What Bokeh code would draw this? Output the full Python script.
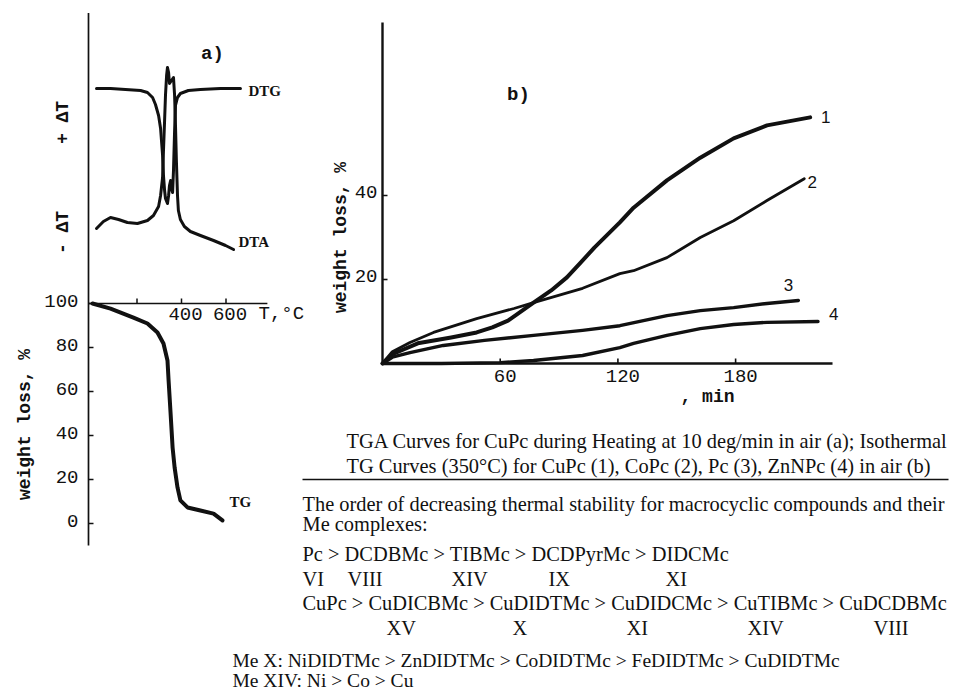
import math
from bokeh.plotting import figure
from bokeh.models import Range1d
from bokeh.core.properties import value
from bokeh.embed import file_html
from bokeh.resources import INLINE

# ---------------- data ----------------
# (a) TGA of CuPc heated at 10 deg/min in air
tg_temp = [0, 81, 184, 247, 292, 319, 337, 342, 351, 360, 369, 382, 395, 427, 485, 544, 584]
tg_mass = [100, 97.7, 93.6, 90.9, 86.8, 81.8, 74.1, 65.0, 50.0, 34.5, 25.5, 16.4, 10.5, 7.3, 5.9, 4.5, 1.4]

dta_temp = [18, 49, 81, 117, 157, 202, 247, 274, 297, 306, 315, 319, 324, 328, 333, 337,
            342, 346, 355, 364, 369, 373, 377, 382, 386, 395, 413, 440, 485, 544, 598, 634]
dta_sig = [11, 14.5, 16.5, 15.5, 14, 13.5, 15, 17.5, 22, 27.5, 36.5, 50, 65, 77.5, 87.5, 91.5,
           89, 83.5, 85, 86.5, 77.5, 62.5, 45, 27.5, 20, 15.5, 12, 9.5, 7.5, 5, 2.5, 0.5]

dtg_temp = [18, 81, 148, 216, 247, 270, 283, 297, 306, 310, 315, 319, 324, 328, 337,
            342, 346, 351, 355, 360, 364, 369, 373, 382, 395, 431, 485, 575, 665]
dtg_sig = [81, 81, 80.5, 80, 79, 76.5, 73, 67.5, 61, 55, 47.5, 37.5, 30, 26, 23.5,
           27.5, 32.5, 35, 31, 29, 40, 60, 72.5, 76.5, 78.5, 80, 80.5, 81, 81]

tg_ticks = [0, 20, 40, 60, 80, 100]
t_ticks = [200, 400, 600]
t_tick_labels = ["", "400", "600"]

# (b) isothermal TG at 350 C in air
c1_time = [0, 5, 18, 35, 48, 56, 64, 77, 86, 94, 101, 108, 121, 128, 145, 162, 179, 196, 218]
c1_loss = [0, 2.2, 4.8, 6.2, 7.4, 8.6, 10.2, 14.5, 17.4, 20.5, 24.0, 27.6, 33.6, 37.1, 43.6, 49.0, 53.6, 56.7, 58.6]
c2_time = [0, 5, 14, 26, 48, 67, 77, 102, 121, 128, 145, 162, 179, 196, 215]
c2_loss = [0, 2.8, 5.0, 7.4, 10.7, 13.1, 14.5, 17.9, 21.4, 22.1, 25.2, 30.0, 34.0, 38.8, 44.0]
c3_time = [0, 5, 14, 31, 52, 77, 102, 121, 145, 162, 179, 196, 212]
c3_loss = [0, 1.5, 2.6, 4.3, 5.5, 6.7, 7.9, 9.0, 11.4, 12.6, 13.3, 14.3, 15.0]
c4_time = [0, 30, 60, 77, 102, 121, 128, 145, 162, 179, 196, 222]
c4_loss = [0, 0, 0.2, 0.7, 1.9, 3.8, 4.8, 6.7, 8.3, 9.3, 9.8, 10.0]
curve_names = ["1", "2", "3", "4"]
curve_label_time = [226, 219, 207, 230]
curve_label_loss = [58.6, 43.1, 18.8, 11.7]

time_ticks = [60, 120, 180]
loss_ticks = [20, 40]

caption = [
    "TGA Curves for CuPc during Heating at 10 deg/min in air (a); Isothermal",
    "TG Curves (350\u00b0C) for CuPc (1), CoPc (2), Pc (3), ZnNPc (4) in air (b)",
]
note_lines = [
    "The order of decreasing thermal stability for macrocyclic compounds and their",
    "Me complexes:",
    "Pc > DCDBMc > TIBMc > DCDPyrMc > DIDCMc",
    "CuPc > CuDICBMc > CuDIDTMc > CuDIDCMc > CuTIBMc > CuDCDBMc",
]
numerals_row1 = ["VI", "VIII", "XIV", "IX", "XI"]
numerals_row2 = ["XV", "X", "XI", "XIV", "VIII"]
me_lines = [
    "Me X: NiDIDTMc > ZnDIDTMc > CoDIDTMc > FeDIDTMc > CuDIDTMc",
    "Me XIV: Ni > Co > Cu",
]

# ---------------- layout (page pixels) ----------------
W, H = 950, 690
PX_L, PX_T = 0, 0
PX_R, PX_B = PX_L + W, PX_T + H

def xr(origin, scale):
    return Range1d((PX_L - origin) / scale, (PX_R - origin) / scale)

def yr(origin, scale):
    return Range1d((origin - PX_B) / scale, (origin - PX_T) / scale)

TA_X0, TA_S = 92, 0.2225      # temperature axis
TG_Y0, TG_S = 523, 2.2        # TG %
SG_Y0, SG_S = 250, 2.0        # DTA / DTG signal
TM_X0, TM_S = 382, 1.9617     # time axis of (b)
WL_Y0, WL_S = 363, 4.2        # weight loss of (b)

p = figure(width=W, height=H, output_backend="svg", toolbar_location=None, title=None,
           x_range=Range1d(PX_L, PX_R), y_range=Range1d(PX_B, PX_T),
           x_axis_type=None, y_axis_type=None, min_border=0,
           outline_line_color=None, background_fill_color="white",
           border_fill_color="white")
p.extra_x_ranges = {"T": xr(TA_X0, TA_S), "min": xr(TM_X0, TM_S)}
p.extra_y_ranges = {"tg": yr(TG_Y0, TG_S), "sig": yr(SG_Y0, SG_S), "wl": yr(WL_Y0, WL_S)}

INK = "#111111"
MONO = value("Liberation Mono")
SERIF = value("Liberation Serif")

# ---------- panel (a) ----------
a_axis_T = -18
a_axis_top = 232
a_axis_bottom = -10
t_axis_end = 786
p.line([a_axis_T, a_axis_T], [a_axis_bottom, a_axis_top], x_range_name="T", y_range_name="tg",
       line_color=INK, line_width=1.7)
p.line([a_axis_T, t_axis_end], [100, 100], x_range_name="T", y_range_name="tg",
       line_color=INK, line_width=1.7)
tick_T = 5 / TA_S
tick_v = 5 / TG_S
p.segment(x0=[a_axis_T] * len(tg_ticks), y0=tg_ticks, x1=[a_axis_T + tick_T] * len(tg_ticks), y1=tg_ticks,
          x_range_name="T", y_range_name="tg", line_color=INK, line_width=1.5)
p.text(x=[a_axis_T] * len(tg_ticks), y=tg_ticks, text=[str(t) for t in tg_ticks],
       x_range_name="T", y_range_name="tg", x_offset=-10, y_offset=-3,
       text_align="right", text_baseline="middle", text_font=MONO, text_font_size="19px",
       text_color=INK)
p.segment(x0=t_ticks, y0=[100] * 3, x1=t_ticks, y1=[100 + tick_v] * 3,
          x_range_name="T", y_range_name="tg", line_color=INK, line_width=1.5)
p.text(x=t_ticks, y=[100] * 3, text=t_tick_labels, x_range_name="T", y_range_name="tg",
       x_offset=4, y_offset=10, text_align="center", text_baseline="middle",
       text_font=MONO, text_font_size="19px", text_color=INK)
p.text(x=[746], y=[100], text=["T,\u00b0C"], x_range_name="T", y_range_name="tg",
       y_offset=10, text_align="left", text_baseline="middle",
       text_font=MONO, text_font_size="19px", text_color=INK)

p.line(dtg_temp, dtg_sig, x_range_name="T", y_range_name="sig", line_color=INK,
       line_width=3, line_join="round", line_cap="round")
p.line(dta_temp, dta_sig, x_range_name="T", y_range_name="sig", line_color=INK,
       line_width=3, line_join="round", line_cap="round")
p.line(tg_temp, tg_mass, x_range_name="T", y_range_name="tg", line_color=INK,
       line_width=4, line_join="round", line_cap="round")

p.text(x=[701, 656], y=[80, 4.5], text=["DTG", "DTA"], x_range_name="T", y_range_name="sig",
       text_align="left", text_baseline="middle", text_font=SERIF, text_font_style="bold",
       text_font_size="15px", text_color=INK)
p.text(x=[616], y=[10], text=["TG"], x_range_name="T", y_range_name="tg",
       text_align="left", text_baseline="middle", text_font=SERIF, text_font_style="bold",
       text_font_size="15px", text_color=INK)

# panel (a) side labels (page coordinates)
p.text(x=[24, 62, 62], y=[424, 122, 232], text=["weight loss, %", "+ \u0394T", "- \u0394T"],
       angle=math.pi / 2, text_align="center", text_baseline="middle",
       text_font=MONO, text_font_style="bold", text_font_size="18px", text_color=INK)
p.text(x=[212, 518], y=[53, 94], text=["a)", "b)"], text_align="center", text_baseline="middle",
       text_font=MONO, text_font_style="bold", text_font_size="19px", text_color=INK)

# ---------- panel (b) ----------
b_time_end = 229.4
b_loss_top = 81.2
p.line([0, 0], [0, b_loss_top], x_range_name="min", y_range_name="wl", line_color=INK, line_width=2.4)
p.line([0, b_time_end], [0, 0], x_range_name="min", y_range_name="wl", line_color=INK, line_width=2.4)
tk_t = 5 / TM_S
tk_w = 5 / WL_S
p.segment(x0=time_ticks, y0=[0] * 3, x1=time_ticks, y1=[tk_w] * 3, x_range_name="min",
          y_range_name="wl", line_color=INK, line_width=1.6)
p.segment(x0=[0, 0], y0=loss_ticks, x1=[tk_t, tk_t], y1=loss_ticks, x_range_name="min",
          y_range_name="wl", line_color=INK, line_width=1.6)
p.text(x=time_ticks, y=[0] * 3, text=[str(t) for t in time_ticks], x_range_name="min",
       y_range_name="wl", x_offset=5, y_offset=12, text_align="center", text_baseline="middle",
       text_font=MONO, text_font_size="19px", text_color=INK)
p.text(x=[0, 0], y=loss_ticks, text=[str(t) for t in loss_ticks], x_range_name="min",
       y_range_name="wl", x_offset=-5, y_offset=-4, text_align="right", text_baseline="middle",
       text_font=MONO, text_font_size="19px", text_color=INK)
p.text(x=[707], y=[396], text=[", min"], text_align="center", text_baseline="middle",
       text_font=MONO, text_font_style="bold", text_font_size="18px", text_color=INK)
p.text(x=[340], y=[237], text=["weight loss, %"], angle=math.pi / 2, text_align="center",
       text_baseline="middle", text_font=MONO, text_font_style="bold", text_font_size="18px",
       text_color=INK)

for t, w, lw in [(c1_time, c1_loss, 4), (c2_time, c2_loss, 2.8), (c3_time, c3_loss, 3.4), (c4_time, c4_loss, 3.4)]:
    p.line(t, w, x_range_name="min", y_range_name="wl", line_color=INK, line_width=lw,
           line_join="round", line_cap="round")
p.text(x=curve_label_time, y=curve_label_loss, text=curve_names, x_range_name="min",
       y_range_name="wl", text_align="center", text_baseline="middle",
       text_font=value("Liberation Sans"), text_font_size="17px", text_color=INK)

# ---------- text block (page coordinates) ----------
TXT = dict(text_font=SERIF, text_font_size="20.4px", text_color=INK, text_baseline="alphabetic",
           text_align="left")
p.text(x=[346, 346], y=[440, 465], text=caption, **TXT)
p.segment(x0=[302], y0=[479], x1=[948], y1=[479], line_color=INK, line_width=1.3)
p.text(x=[302] * 4, y=[503, 523, 553, 602], text=note_lines, **TXT)
p.text(x=[302, 347, 451, 548, 665], y=[578] * 5, text=numerals_row1, **TXT)
p.text(x=[386, 512, 626, 747, 873], y=[627] * 5, text=numerals_row2, **TXT)
TXT2 = dict(TXT)
TXT2["text_font_size"] = "19.5px"
p.text(x=[232, 232], y=[660, 680], text=me_lines, **TXT2)

open("out.html", "w").write(file_html(p, INLINE))
